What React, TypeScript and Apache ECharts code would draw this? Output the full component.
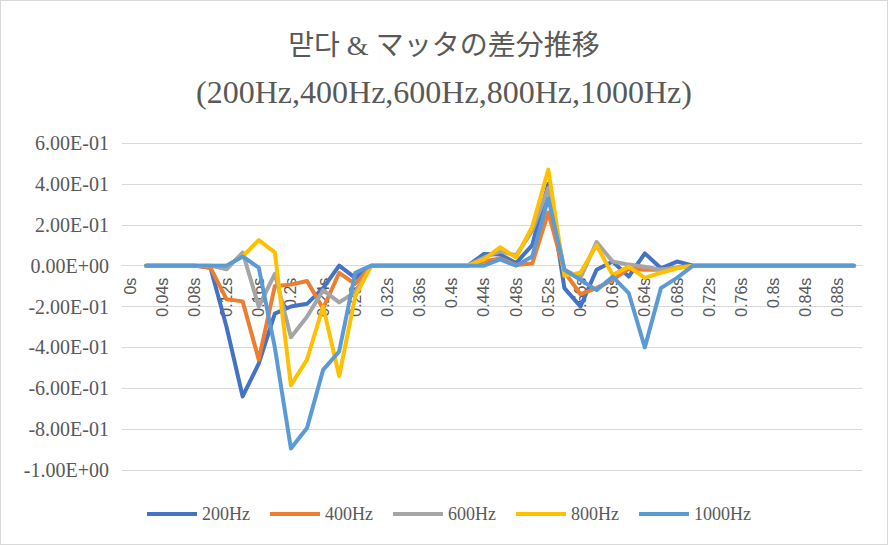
import React, { useEffect, useRef } from "react";
import * as echarts from "echarts";

const titleLine1 = "맏다 & マッタの差分推移";
const titleLine2 = "(200Hz,400Hz,600Hz,800Hz,1000Hz)";

const categories = [
  "0s", "0.02s", "0.04s", "0.06s", "0.08s", "0.1s", "0.12s", "0.14s", "0.16s", "0.18s",
  "0.2s", "0.22s", "0.24s", "0.26s", "0.28s", "0.3s", "0.32s", "0.34s", "0.36s", "0.38s",
  "0.4s", "0.42s", "0.44s", "0.46s", "0.48s", "0.5s", "0.52s", "0.54s", "0.56s", "0.58s",
  "0.6s", "0.62s", "0.64s", "0.66s", "0.68s", "0.7s", "0.72s", "0.74s", "0.76s", "0.78s",
  "0.8s", "0.82s", "0.84s", "0.86s", "0.88s", "0.9s",
];

const seriesNames = ["200Hz", "400Hz", "600Hz", "800Hz", "1000Hz"];
const seriesColors = ["#4472C4", "#ED7D31", "#A5A5A5", "#FFC000", "#5B9BD5"];

const hz200 = [
  null, 0, 0, 0, 0, -0.01, -0.3, -0.64, -0.48, -0.235,
  -0.2, -0.187, -0.11, 0, -0.06, 0, 0, 0, 0, 0,
  0, 0, 0.057, 0.054, 0.013, 0.1, 0.4, -0.11, -0.2, -0.02,
  0.02, -0.054, 0.06, -0.013, 0.02, 0, 0, 0, 0, 0,
  0, 0, 0, 0, 0, 0,
];
const hz400 = [
  null, 0, 0, 0, 0, -0.01, -0.165, -0.175, -0.46, -0.1,
  -0.093, -0.075, -0.21, -0.035, -0.09, 0, 0, 0, 0, 0,
  0, 0, 0.02, 0.035, 0.003, 0.01, 0.26, -0.03, -0.14, -0.11,
  -0.07, -0.015, -0.02, -0.02, -0.01, 0, 0, 0, 0, 0,
  0, 0, 0, 0, 0, 0,
];
const hz600 = [
  null, 0, 0, 0, 0, 0, -0.018, 0.064, -0.2, -0.04,
  -0.35, -0.25, -0.12, -0.18, -0.13, 0, 0, 0, 0, 0,
  0, 0, 0.04, 0.07, 0.05, 0.17, 0.38, -0.02, -0.06, 0.115,
  0.02, 0.005, -0.005, -0.02, -0.01, 0, 0, 0, 0, 0,
  0, 0, 0, 0, 0, 0,
];
const hz800 = [
  null, 0, 0, 0, 0, 0, 0, 0.045, 0.125, 0.065,
  -0.585, -0.46, -0.2, -0.54, -0.15, 0, 0, 0, 0, 0,
  0, 0, 0.03, 0.09, 0.04, 0.19, 0.47, -0.05, -0.035, 0.1,
  -0.046, -0.005, -0.06, -0.035, -0.013, 0, 0, 0, 0, 0,
  0, 0, 0, 0, 0, 0,
];
const hz1000 = [
  null, 0, 0, 0, 0, 0, 0, 0.045, -0.01, -0.4,
  -0.895, -0.795, -0.51, -0.42, -0.035, 0, 0, 0, 0, 0,
  0, 0, 0, 0.03, 0, 0.045, 0.33, -0.02, -0.07, -0.12,
  -0.054, -0.135, -0.4, -0.11, -0.06, 0, 0, 0, 0, 0,
  0, 0, 0, 0, 0, 0,
];

const seriesData = [hz200, hz400, hz600, hz800, hz1000];

const yMin = -1;
const yMax = 0.6;
const yStep = 0.2;

function sci(v: number): string {
  if (Math.abs(v) < 1e-12) return "0.00E+00";
  let exp = Math.floor(Math.log10(Math.abs(v)) + 1e-9);
  let m = (v / Math.pow(10, exp)).toFixed(2);
  if (Math.abs(parseFloat(m)) >= 10) {
    exp += 1;
    m = (v / Math.pow(10, exp)).toFixed(2);
  }
  const sign = exp < 0 ? "-" : "+";
  const e = Math.abs(exp).toString().padStart(2, "0");
  return `${m}E${sign}${e}`;
}

const textColor = "#595959";
const gridColor = "#D9D9D9";
const serif = '"Liberation Serif", "Noto Sans CJK JP", serif';

const GRID_TOP = 142;
const GRID_BOTTOM = 74;
const CHART_H = 543;

export default function App() {
  const ref = useRef<HTMLDivElement>(null);
  useEffect(() => {
    if (!ref.current) return;
    const chart = echarts.init(ref.current, null, { renderer: "svg" });
    const plotH = CHART_H - GRID_TOP - GRID_BOTTOM;
    const zeroFromBottom = (plotH * (0 - yMin)) / (yMax - yMin);
    chart.setOption({
      animation: false,
      backgroundColor: "#ffffff",
      title: [
        {
          text: titleLine1,
          left: "center",
          top: 25,
          textStyle: { fontFamily: serif, fontSize: 28, fontWeight: "normal", color: textColor },
        },
        {
          text: titleLine2,
          left: "center",
          top: 70,
          textStyle: { fontFamily: serif, fontSize: 32, fontWeight: "normal", color: textColor },
        },
      ],
      legend: {
        left: 141,
        top: 499,
        icon: "rect",
        itemWidth: 50,
        itemHeight: 4,
        itemGap: 20,
        textStyle: { fontFamily: serif, fontSize: 18, color: textColor },
        data: seriesNames.map((name) => ({ name, icon: "rect" })),
      },
      grid: { left: 121, right: 25, top: GRID_TOP, bottom: GRID_BOTTOM },
      xAxis: {
        type: "category",
        data: categories,
        boundaryGap: true,
        position: "bottom",
        offset: -zeroFromBottom,
        z: 0,
        axisLine: { show: true, onZero: false, lineStyle: { color: gridColor, width: 1 } },
        axisTick: { show: false },
        axisLabel: {
          interval: 1,
          rotate: 90,
          margin: 12,
          color: textColor,
          fontFamily: '"Liberation Sans", sans-serif',
          fontSize: 16,
        },
        splitLine: { show: false },
      },
      yAxis: {
        type: "value",
        min: yMin,
        max: yMax,
        interval: yStep,
        z: 0,
        axisLine: { show: false },
        axisTick: { show: false },
        axisLabel: {
          margin: 13,
          color: textColor,
          fontFamily: serif,
          fontSize: 20,
          formatter: (v: number) => sci(v),
        },
        splitLine: { show: true, lineStyle: { color: gridColor, width: 1 } },
      },
      series: seriesNames.map((name, i) => ({
        name,
        type: "line",
        data: seriesData[i],
        symbol: "none",
        showSymbol: false,
        connectNulls: false,
        z: 5 + i,
        itemStyle: { color: seriesColors[i] },
        lineStyle: { width: 4, color: seriesColors[i], join: "round", cap: "round" },
      })),
    });
    return () => chart.dispose();
  }, []);
  return (
    <div
      style={{
        position: "fixed",
        left: 0,
        top: 0,
        width: 888,
        height: 545,
        boxSizing: "border-box",
        border: "1px solid #D9D9D9",
        background: "#ffffff",
      }}
    >
      <div ref={ref} style={{ width: 886, height: 543 }} />
    </div>
  );
}
